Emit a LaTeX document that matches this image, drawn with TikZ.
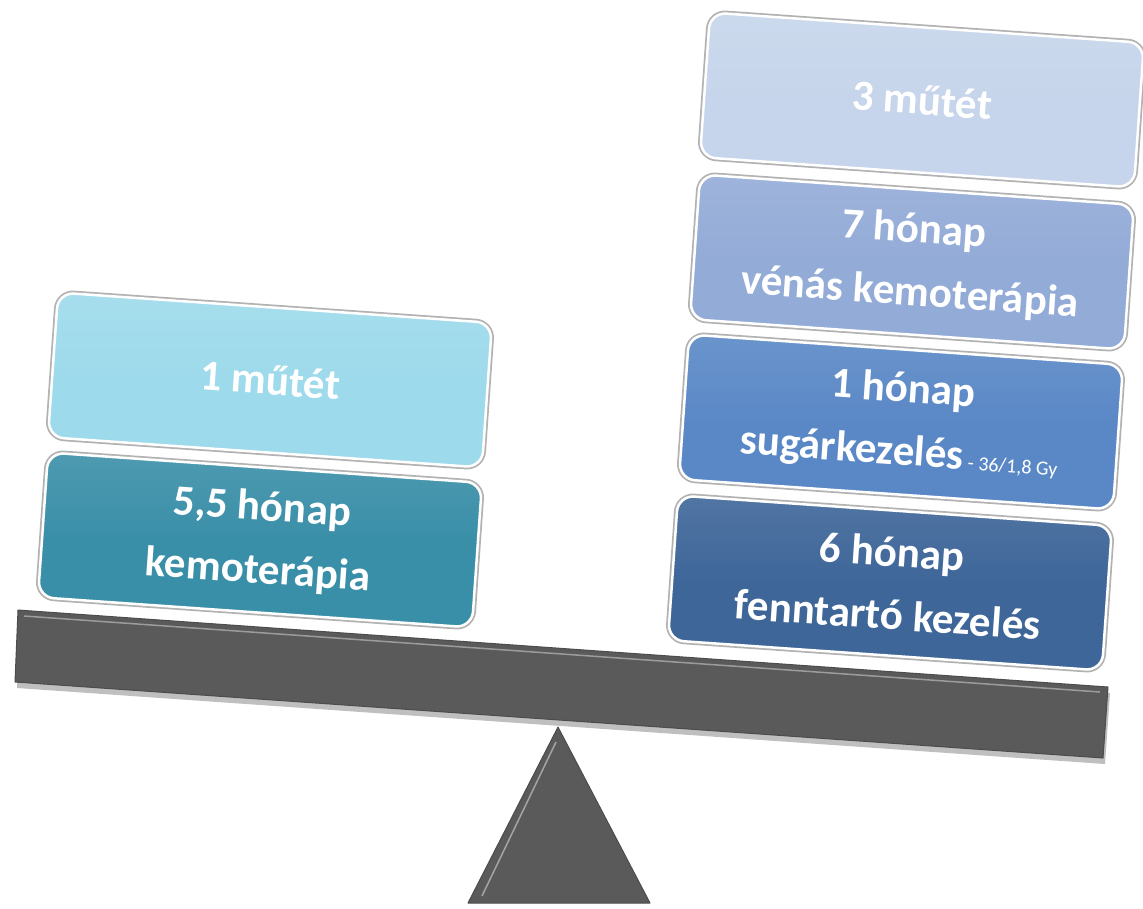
\documentclass[tikz,border=0pt]{standalone}
\usepackage{fontspec}
\setmainfont{Carlito}
\definecolor{cyanlight}{HTML}{9DDAEB}
\definecolor{tealdark}{HTML}{3A8FA8}
\definecolor{bluepale}{HTML}{C6D5EB}
\definecolor{bluesoft}{HTML}{93ABD7}
\definecolor{bluemid}{HTML}{5A88C6}
\definecolor{bluedeep}{HTML}{3E6699}
\definecolor{beamgray}{HTML}{5A5A5A}
\begin{document}
\begin{tikzpicture}[x=1pt,y=-1pt]
\useasboundingbox (0,0) rectangle (1143,908);
\tikzset{
  block/.style={rounded corners=16pt, minimum width=435pt, minimum height=145pt,
    inner sep=0pt, align=center, text=white, rotate=-4,
    font=\bfseries\fontsize{43}{63}\selectfont,
    draw=white, line width=2.5pt,
    preaction={draw=gray!60, line width=6pt}},
  blockfill/.style={top color=#1!90!white, bottom color=#1, middle color=#1},
  metal/.style={fill=beamgray, draw=black!70, line width=1pt, line join=round},
}
% fulcrum
\fill[metal] (558,727) -- (650,903) -- (468,903) -- cycle;
\draw[white!45!beamgray, line width=1.5pt] (556,742) -- (482,896);
% beam
\fill[black!25] (20,616) -- (1110,693) -- (1105,764) -- (17,688) -- cycle;
\fill[metal] (18,610) -- (1108,687) -- (1103,758) -- (15,682) -- cycle;
\draw[white!40!beamgray, line width=1.5pt] (24,616) -- (1100,692);
% left pan
\node[block, blockfill=tealdark] (kemo) at (260,540) {5,5 hónap\\kemoterápia};
\node[block, blockfill=cyanlight] (mutet1) at (270,380) {1 műtét};
% right pan
\node[block, blockfill=bluedeep] (fenn) at (890,583) {6 hónap\\fenntartó kezelés};
\node[block, blockfill=bluemid] (sugar) at (901,422)
  {1 hónap\\sugárkezelés{\mdseries\fontsize{20}{24}\selectfont\ - 36/1,8 Gy}};
\node[block, blockfill=bluesoft] (venas) at (912,262) {7 hónap\\vénás kemoterápia};
\node[block, blockfill=bluepale] (mutet3) at (922,100) {3 műtét};
\end{tikzpicture}
\end{document}
